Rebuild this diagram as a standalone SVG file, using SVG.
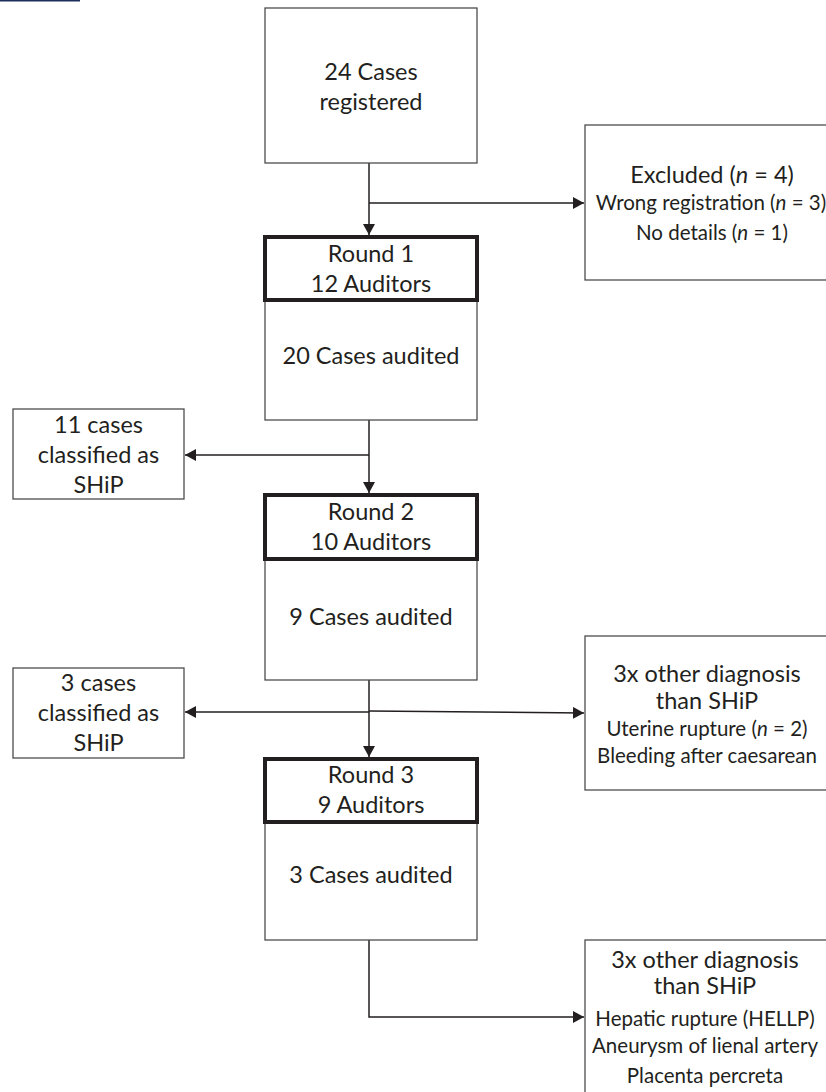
<svg xmlns="http://www.w3.org/2000/svg" width="826" height="1092" viewBox="0 0 826 1092">
<defs>
<marker id="arr" markerWidth="12" markerHeight="12" refX="11" refY="6" orient="auto" markerUnits="userSpaceOnUse"><path d="M0,0 L11,6 L0,12 z" fill="#231f20"/></marker>
<style>
.box{fill:#fff;stroke:#4d4d4d;stroke-width:1.3}
.hdr{fill:#fff;stroke:#231f20;stroke-width:4}
.t{font-family:Lato,"Liberation Sans",sans-serif;fill:#231f20;text-anchor:middle}
.big{font-size:23.5px}
.sm{font-size:20.5px}
.i{font-style:italic}
.c{fill:none;stroke:#231f20;stroke-width:1.5}
</style>
</defs>
<rect x="0" y="0" width="80" height="1.5" fill="#1c2f5a"/>
<g id="connectors">
<line class="c" x1="369" y1="163" x2="369" y2="235" marker-end="url(#arr)"/>
<line class="c" x1="369" y1="203" x2="584" y2="203" marker-end="url(#arr)"/>
<line class="c" x1="369" y1="420" x2="369" y2="493" marker-end="url(#arr)"/>
<line class="c" x1="369" y1="455" x2="185" y2="455" marker-end="url(#arr)"/>
<line class="c" x1="369" y1="680" x2="369" y2="757" marker-end="url(#arr)"/>
<line class="c" x1="369" y1="712" x2="185" y2="712" marker-end="url(#arr)"/>
<line class="c" x1="369" y1="711" x2="584" y2="713" marker-end="url(#arr)"/>
<polyline class="c" points="369,940 369,1017 584,1017" marker-end="url(#arr)"/>
</g>
<g id="registered">
<rect class="box" x="265" y="8" width="212" height="155"/>
<text class="t big" x="371" y="80">24 Cases</text>
<text class="t big" x="371" y="110">registered</text>
</g>
<g id="excluded">
<rect class="box" x="585" y="125" width="260" height="155"/>
<text class="t big" x="712" y="183">Excluded (<tspan class="i">n</tspan> = 4)</text>
<text class="t sm" x="711" y="210">Wrong registration (<tspan class="i">n</tspan> = 3)</text>
<text class="t sm" x="712" y="240">No details (<tspan class="i">n</tspan> = 1)</text>
</g>
<g id="round1">
<rect class="box" x="265" y="300" width="212" height="120"/>
<rect class="hdr" x="265" y="237" width="212" height="63"/>
<text class="t big" x="371" y="262">Round 1</text>
<text class="t big" x="371" y="292">12 Auditors</text>
<text class="t big" x="371" y="364">20 Cases audited</text>
</g>
<g id="ship1">
<rect class="box" x="13" y="409" width="171" height="90"/>
<text class="t big" x="98.5" y="433">11 cases</text>
<text class="t big" x="98.5" y="463">classified as</text>
<text class="t big" x="98.5" y="493">SHiP</text>
</g>
<g id="round2">
<rect class="box" x="265" y="559" width="212" height="121"/>
<rect class="hdr" x="265" y="495" width="212" height="64"/>
<text class="t big" x="371" y="520">Round 2</text>
<text class="t big" x="371" y="550">10 Auditors</text>
<text class="t big" x="371" y="625">9 Cases audited</text>
</g>
<g id="ship2">
<rect class="box" x="13" y="668" width="171" height="90"/>
<text class="t big" x="98.5" y="691">3 cases</text>
<text class="t big" x="98.5" y="721">classified as</text>
<text class="t big" x="98.5" y="751">SHiP</text>
</g>
<g id="other1">
<rect class="box" x="585" y="636" width="250" height="154"/>
<text class="t big" x="707" y="682">3x other diagnosis</text>
<text class="t big" x="707" y="709">than SHiP</text>
<text class="t sm" x="707" y="736">Uterine rupture (<tspan class="i">n</tspan> = 2)</text>
<text class="t sm" x="707" y="763">Bleeding after caesarean</text>
</g>
<g id="round3">
<rect class="box" x="265" y="822" width="212" height="118"/>
<rect class="hdr" x="265" y="759" width="212" height="63"/>
<text class="t big" x="371" y="783">Round 3</text>
<text class="t big" x="371" y="813">9 Auditors</text>
<text class="t big" x="371" y="883">3 Cases audited</text>
</g>
<g id="other2">
<rect class="box" x="585" y="940" width="250" height="170"/>
<text class="t big" x="705" y="968">3x other diagnosis</text>
<text class="t big" x="705" y="994">than SHiP</text>
<text class="t sm" x="705" y="1026">Hepatic rupture (HELLP)</text>
<text class="t sm" x="705" y="1053">Aneurysm of lienal artery</text>
<text class="t sm" x="705" y="1083">Placenta percreta</text>
</g>
</svg>
